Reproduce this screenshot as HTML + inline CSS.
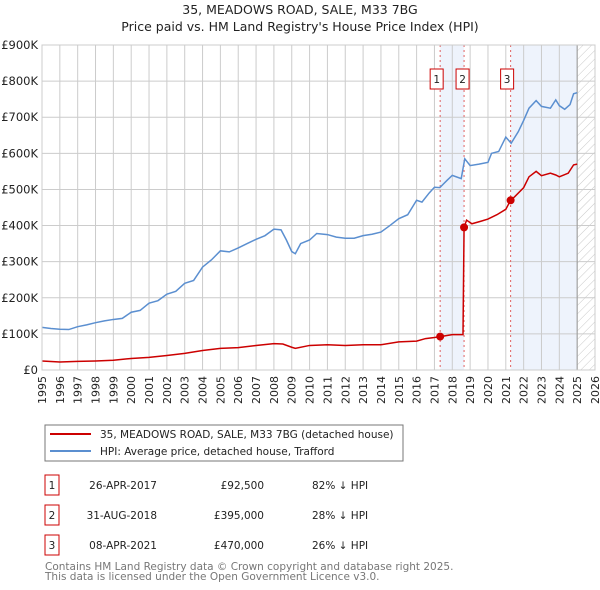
<!DOCTYPE html>
<html><head><meta charset="utf-8"><style>
body{margin:0;background:#fff;font-family:"Liberation Sans","DejaVu Sans",sans-serif;}
svg{display:block}
text{font-family:"DejaVu Sans","Liberation Sans",sans-serif;}
</style></head><body>
<svg id="c" width="600" height="590">
<defs><pattern id="hatch" width="6" height="6" patternUnits="userSpaceOnUse" patternTransform="rotate(45)"><line x1="0" y1="0" x2="0" y2="6" stroke="#bbb" stroke-width="0.8"/></pattern></defs>
<text x="300" y="14" font-size="12.5" text-anchor="middle" fill="#222">35, MEADOWS ROAD, SALE, M33 7BG</text>
<text x="300" y="31" font-size="12.5" text-anchor="middle" fill="#222">Price paid vs. HM Land Registry's House Price Index (HPI)</text>
<g id="grid"></g><g id="marks"></g><g id="axes"></g>
<g>
<rect x="45" y="425" width="358" height="36" fill="#fff" stroke="#777"/>
<line x1="50" y1="434" x2="91" y2="434" stroke="#cc0000" stroke-width="2"/>
<text x="100" y="438" font-size="10.5" fill="#222">35, MEADOWS ROAD, SALE, M33 7BG (detached house)</text>
<line x1="50" y1="451" x2="91" y2="451" stroke="#5b8fd0" stroke-width="2"/>
<text x="100" y="455" font-size="10.5" fill="#222">HPI: Average price, detached house, Trafford</text>
</g>
<g id="table" font-size="10.5" fill="#222"></g>
<text x="45" y="570" font-size="10.5" fill="#777">Contains HM Land Registry data © Crown copyright and database right 2025.</text>
<text x="45" y="580" font-size="10.5" fill="#777">This data is licensed under the Open Government Licence v3.0.</text>
</svg>
<script>
const hpiT=[1995,1995.5,1996,1996.5,1997,1997.5,1998,1998.5,1999,1999.5,2000,2000.5,2001,2001.5,2002,2002.5,2003,2003.5,2004,2004.5,2005,2005.5,2006,2006.5,2007,2007.5,2008,2008.4,2008.7,2009,2009.2,2009.5,2010,2010.4,2011,2011.5,2012,2012.5,2013,2013.5,2014,2014.5,2015,2015.5,2016,2016.3,2016.7,2017,2017.3,2017.7,2018,2018.5,2018.7,2019,2019.5,2020,2020.2,2020.6,2021,2021.3,2021.7,2022,2022.3,2022.7,2023,2023.5,2023.8,2024,2024.3,2024.6,2024.8,2025];
const hpiV=[118,115,113,112,120,125,131,136,140,143,160,165,185,192,210,218,240,248,285,305,330,327,338,350,362,372,390,388,360,328,322,350,360,378,375,368,365,365,372,376,382,400,419,430,470,465,490,506,505,525,539,530,585,566,570,575,600,605,645,628,660,691,725,746,730,725,748,732,722,735,765,768];
const ppT=[1995,1996,1997,1998,1999,2000,2001,2002,2003,2004,2005,2006,2007,2008,2008.5,2009,2009.2,2010,2011,2012,2013,2014,2015,2016,2016.5,2017,2017.32,2018,2018.6,2018.66,2018.8,2019.1,2019.6,2020,2020.5,2021,2021.27,2021.5,2022,2022.3,2022.7,2023,2023.5,2023.8,2024,2024.5,2024.8,2025];
const ppV=[25,22,24,25,27,32,35,40,46,54,60,62,68,73,72,63,60,68,70,68,70,70,78,80,87,90,92.5,98,98,395,415,405,412,418,430,445,470,480,505,535,550,538,545,540,535,545,568,570];
const saleT=[2017.32,2018.66,2021.27];
const saleV=[92.5,395,470];
const saleLbl=["1","2","3"];
const saleDate=["26-APR-2017","31-AUG-2018","08-APR-2021"];
const salePrice=["£92,500","£395,000","£470,000"];
const saleHpi=["82% ↓ HPI","28% ↓ HPI","26% ↓ HPI"];
const yTicks=[0,100,200,300,400,500,600,700,800,900];
const yLbl=["£0","£100K","£200K","£300K","£400K","£500K","£600K","£700K","£800K","£900K"];
const X0=42,X1=595,Y0=370,Y1=45;
const xs=t=>X0+(t-1995)*(X1-X0)/31;
const ys=v=>Y0-v*(Y0-Y1)/900;
const NS="http://www.w3.org/2000/svg";
function mk(p,tag,a){const e=document.createElementNS(NS,tag);for(const k in a)e.setAttribute(k,a[k]);p.appendChild(e);return e;}
const g=document.getElementById('grid'),m=document.getElementById('marks'),ax=document.getElementById('axes'),tb=document.getElementById('table');
let s1=mk(g,'rect',{x:xs(saleT[0]),y:Y1,width:xs(saleT[1])-xs(saleT[0]),height:Y0-Y1,fill:'#eef3fc'});


let s2=mk(g,'rect',{x:xs(saleT[2]),y:Y1,width:xs(2025)-xs(saleT[2]),height:Y0-Y1,fill:'#eef3fc'});


let hz=mk(g,'rect',{x:xs(2025),y:Y1,width:X1-xs(2025),height:Y0-Y1,fill:'url(#hatch)'});


for(let yr=1995;yr<=2026;yr++){
 let l=mk(g,'line',{x1:xs(yr),x2:xs(yr),y1:Y1,y2:Y0,stroke:'#ccc','stroke-width':1});
 
 
 let t=mk(ax,'text',{x:0,y:0,'font-size':11,fill:'#222','text-anchor':'end',transform:`translate(${xs(yr)+4},${Y0+6}) rotate(-90)`});
 t.textContent=yr;
 
 
}
yTicks.forEach((v,i)=>{
 let l=mk(g,'line',{x1:X0,x2:X1,y1:ys(v),y2:ys(v),stroke:'#ccc','stroke-width':1});
 
 
 let t=mk(ax,'text',{x:X0-4,y:ys(v)+4,'font-size':11.5,fill:'#222','text-anchor':'end'});
 t.textContent=yLbl[i];
 
 
});
let vl=mk(g,'line',{x1:xs(2025),x2:xs(2025),y1:Y1,y2:Y0,stroke:'#999','stroke-width':1});


saleT.forEach((t,i)=>{
 let l=mk(m,'line',{x1:xs(t),x2:xs(t),y1:Y1,y2:Y0,stroke:'#e06060','stroke-width':1,'stroke-dasharray':'2,3'});
 
 
 const bx=xs(t)-(i==1?8:10);
 let b=mk(m,'rect',{x:bx,y:69,width:13,height:20,fill:'#fff',stroke:'#cc0000'});
 
 
 let tx=mk(m,'text',{x:bx+6.5,y:83,'font-size':10.5,'text-anchor':'middle',fill:'#222'});
 tx.textContent=saleLbl[i];
 
 
});
let hp=mk(m,'polyline',{points:hpiT.map((t,i)=>xs(t)+','+ys(hpiV[i])).join(' '),fill:'none',stroke:'#5b8fd0','stroke-width':1.5});


let pp=mk(m,'polyline',{points:ppT.map((t,i)=>xs(t)+','+ys(ppV[i])).join(' '),fill:'none',stroke:'#cc0000','stroke-width':1.5});


saleT.forEach((t,i)=>{
 let c=mk(m,'circle',{cx:xs(t),cy:ys(saleV[i]),r:4,fill:'#cc0000'});
 
 
 const y=485+i*30;
 let b=mk(tb,'rect',{x:45,y:y-10,width:14,height:20,fill:'#fff',stroke:'#cc0000'});
 
 
 const cells=[[52,saleLbl[i],'middle'],[157,saleDate[i],'end'],[264,salePrice[i],'end'],[312,saleHpi[i],'start']];
 cells.forEach(c2=>{let tx=mk(tb,'text',{x:c2[0],y:y+4,'text-anchor':c2[2],'font-size':10.5,fill:'#222'});tx.textContent=c2[1];
  
  });
});
let fr=mk(ax,'rect',{x:X0,y:Y1,width:X1-X0,height:Y0-Y1,fill:'none',stroke:'#ccc'});


</script>
</body></html>
